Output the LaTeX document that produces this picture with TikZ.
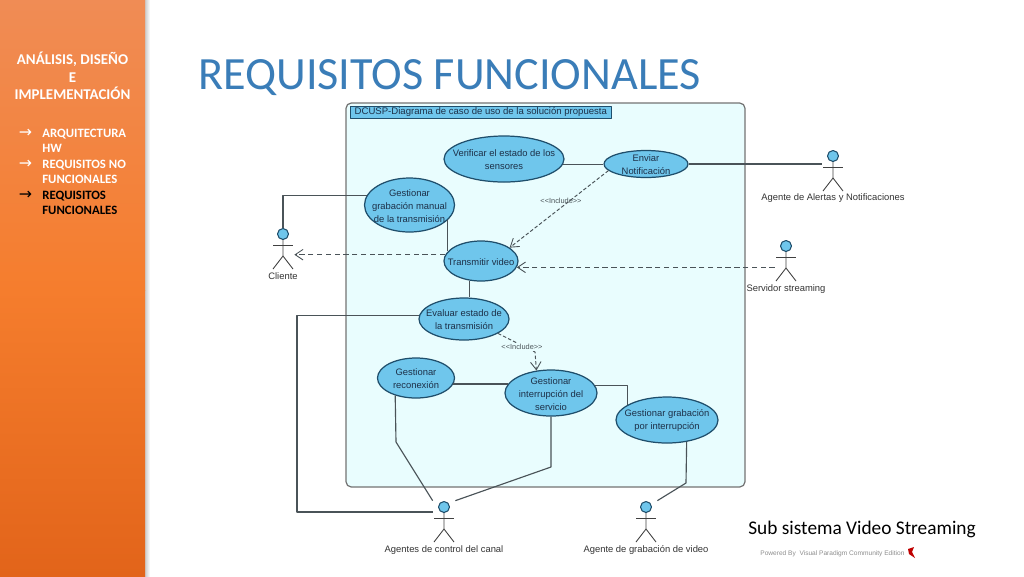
\documentclass[tikz,border=0pt]{standalone}
\usepackage{fontspec}
\setmainfont{Liberation Sans}
\newfontfamily\carlito{Carlito}
\newfontfamily\dejavu{DejaVu Sans}
\usetikzlibrary{arrows.meta, shapes.geometric}
\definecolor{slideblue}{HTML}{3A7DB8}
\definecolor{bandtop}{HTML}{F08C55}
\definecolor{bandmid}{HTML}{F57D2D}
\definecolor{bandbottom}{HTML}{E2641A}
\definecolor{framefill}{HTML}{E9FDFE}
\definecolor{caseblue}{HTML}{6FC6EC}
\definecolor{caseline}{HTML}{1F4E6B}
\definecolor{linkgray}{HTML}{4A5358}
\definecolor{casetext}{HTML}{1D3048}
\tikzset{
    usecase/.style 2 args={ellipse, draw=caseline, fill=caseblue, line width=0.7pt, inner sep=0pt,
        minimum width=#1*0.02cm, minimum height=#2*0.02cm},
    casecaption/.style={align=center, text=casetext, inner sep=0pt, yshift=-0.5pt, font=\fontsize{5.35pt}{7.4pt}\selectfont},
    link/.style={draw=linkgray, line width=0.65pt},
    depend/.style={draw=linkgray, line width=0.55pt, dash pattern=on 3pt off 2pt, -{Straight Barb[length=4.5pt, width=6pt, line width=0.5pt]}},
    includedep/.style={depend, dash pattern=on 2pt off 1.2pt},
    includelabel/.style={font=\fontsize{4.2pt}{5pt}\selectfont, text=linkgray, inner sep=0.5pt},
}
\begin{document}
\begin{tikzpicture}[x=0.02cm, y=-0.02cm, line join=round]
    \useasboundingbox (0,0) rectangle (1024,576);

    % Side band
    \shade[left color=black!20, right color=white] (145,0) rectangle (150,576);
    \shade[top color=bandtop, bottom color=bandmid] (0,0) rectangle (145,290);
    \shade[top color=bandmid, bottom color=bandbottom] (0,290) rectangle (145,576);

    \node[text=white, align=center, font=\carlito\bfseries\fontsize{8.5pt}{10.1pt}\selectfont] (sidetitle) at (72.5,76) {ANÁLISIS, DISEÑO\\E\\IMPLEMENTACIÓN};
    % Side list
    \foreach \name/\y/\col/\txt in {arq/141/white/{ARQUITECTURA\\HW}, nofun/172/white/{REQUISITOS NO\\FUNCIONALES}, fun/203/black/{REQUISITOS\\FUNCIONALES}} {
        \node[text=\col, anchor=west, align=left, inner sep=0pt, font=\carlito\bfseries\fontsize{7.25pt}{8.8pt}\selectfont] (\name) at (42,\y) {\txt};
        \node[text=\col, inner sep=0pt, font=\dejavu\fontsize{9pt}{9pt}\selectfont] (\name arrow) at (25.5,\y-8) {→};
    }

    % Titles
    \node[text=slideblue, anchor=base west, inner sep=0pt, font=\carlito\fontsize{26.3pt}{30pt}\selectfont] (title) at (198,89) {REQUISITOS FUNCIONALES};
    \node[anchor=base west, inner sep=0pt, font=\carlito\fontsize{11pt}{12pt}\selectfont] (subtitle) at (748,534) {Sub sistema Video Streaming};
    \node[anchor=base west, inner sep=0pt, text=black!45, font=\fontsize{3.75pt}{4.5pt}\selectfont] (powered) at (760,555) {Powered By\ \ Visual Paradigm Community Edition};
    \fill[red!75!black] (908,549) -- (914,547) -- (912,552) -- (915,558) -- (909,554) -- cycle;

    % System frame
    \draw[draw=black!55, fill=framefill, line width=0.7pt, rounded corners=3pt] (346,103) rectangle (745,487);
    \node[draw=caseline, fill=caseblue, anchor=north west, minimum width=261*0.02cm, minimum height=12*0.02cm, inner sep=0pt, text=casetext, font=\fontsize{5.45pt}{6pt}\selectfont] (frametitle) at (350,106) {DCUSP-Diagrama de caso de uso de la solución propuesta\hspace{3pt}};

    % Use cases
    \node[usecase={120}{46}, label={[casecaption]center:{Verificar el estado de los\\sensores}}] (verificar) at (504,159) {};
    \node[usecase={84}{27}, label={[casecaption]center:{Enviar\\Notificación}}] (enviar) at (646,164) {};
    \node[usecase={90}{54}, label={[casecaption]center:{Gestionar\\grabación manual\\de la transmisión}}] (manual) at (409.5,205) {};
    \node[usecase={74}{40}, label={[casecaption]center:{Transmitir video}}] (transmitir) at (481,261) {};
    \node[usecase={90}{42}, label={[casecaption]center:{Evaluar estado de\\la transmisión}}] (evaluar) at (464,319) {};
    \node[usecase={77}{40}, label={[casecaption]center:{Gestionar\\reconexión}}] (reconexion) at (416,378) {};
    \node[usecase={92}{46}, label={[casecaption]center:{Gestionar\\interrupción del\\servicio}}] (interrupcion) at (551,393) {};
    \node[usecase={102}{46}, label={[casecaption]center:{Gestionar grabación\\por interrupción}}] (grabacion) at (667,420) {};

    % Actors
    \foreach \name/\x/\y/\ly/\txt in {alertas/833/156/42/Agente de Alertas y Notificaciones, servidor/786/246/43.5/Servidor streaming, cliente/283/234/42/Cliente, agentes/444/507/43/Agentes de control del canal, agentegrab/646/507/43/Agente de grabación de video} {
        \node[minimum width=22*0.02cm, minimum height=42*0.02cm, inner sep=0pt] (\name) at (\x,\y+15) {};
        \node[circle, draw=caseline, fill=caseblue, line width=0.6pt, minimum size=11*0.02cm, inner sep=0pt] (\name head) at (\x,\y) {};
        \draw[draw=black!75, line width=0.5pt] (\name head) -- (\x,\y+22) -- (\x-10,\y+35);
        \draw[draw=black!75, line width=0.5pt] (\x,\y+22) -- (\x+10,\y+35);
        \draw[draw=black!75, line width=0.5pt] (\x-10,\y+11) -- (\x+10,\y+11);
        \node[text=black!80, inner sep=0pt, font=\fontsize{5.35pt}{6pt}\selectfont] (\name label) at (\x,\y+\ly) {\txt};
    }

    % Bend points
    \coordinate (bendcanal) at (297,512);
    \coordinate (bendreco) at (396,442);
    \coordinate (bendinter) at (551,467);
    \coordinate (bendgrab) at (686,483);
    \coordinate (bendinclude) at (535,352);

    % Associations
    \draw[link] (verificar.-5) -- (verificar.-5 -| enviar.west);
    \draw[link] (enviar.east) -- (enviar.east -| alertas.west);
    \draw[link] (manual.167) -| (cliente.north);
    \draw[link] (manual.-22) -- (manual.-22 |- transmitir.163);
    \draw[link] (transmitir.-120) -- (transmitir.-120 |- evaluar.north);
    \draw[link] (evaluar.175) -| (bendcanal) -- (bendcanal -| agentes.west);
    \draw[link] (reconexion.-9) -- (reconexion.-9 -| interrupcion.168);
    \draw[link] (reconexion.220) -- (bendreco) -- (agentes.north west);
    \draw[link] (interrupcion.south) -- (bendinter) -- (agentes.north east);
    \draw[link] (interrupcion.10) -| (grabacion.159);
    \draw[link] (grabacion.-48) -- (bendgrab) -- (agentegrab.north east);

    % Dependencies
    \draw[depend] (transmitir.170) -- (transmitir.170 -| cliente.east);
    \draw[depend] (servidor.west |- transmitir.-10) -- (transmitir.-10);
    \draw[includedep] (enviar.190) -- (transmitir.25);
    \draw[includedep] (evaluar.-23) -- (bendinclude) -- (interrupcion.123);
    \node[includelabel] (include) at (561,201) {<{}<Include>{}>};
    \node[includelabel, fill=framefill] (includeb) at (522,347) {<{}<Include>{}>};
\end{tikzpicture}
\end{document}
